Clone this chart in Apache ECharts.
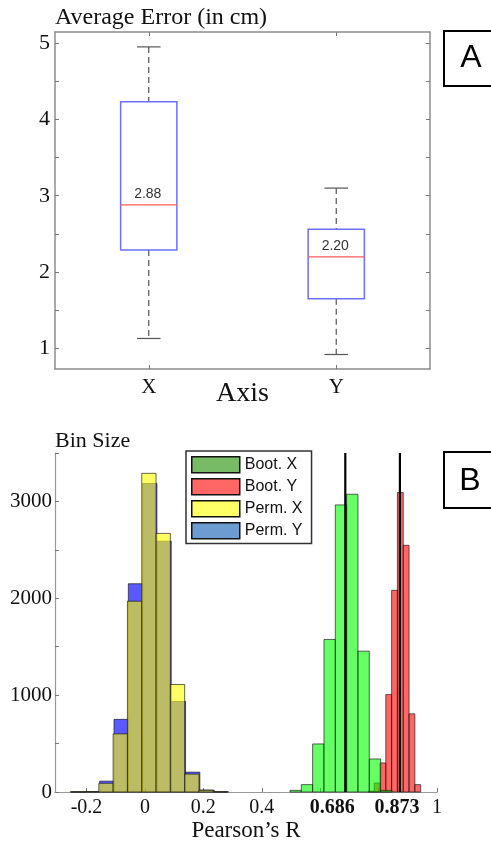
<!DOCTYPE html>
<html>
<head>
<meta charset="utf-8">
<title>Average error and Pearson's R</title>
<script src="https://cdn.jsdelivr.net/npm/echarts@6/dist/echarts.min.js"></script>
<style>
  html, body { margin: 0; padding: 0; background: #fff; }
  #chart { width: 491px; height: 844px; }
</style>
</head>
<body>
<div id="chart"></div>
<script>
"use strict";

// panel A: box plot of the average error per axis
var boxCats = ["X", "Y"];
var boxMin = [1.13, 0.92];
var boxQ1 = [2.29, 1.65];
var boxMedian = [2.88, 2.20];
var boxQ3 = [4.23, 2.56];
var boxMax = [4.95, 3.10];
var errLabels = [1, 2, 3, 4, 5];
var errTicks = [1, 1.5, 2, 2.5, 3, 3.5, 4, 4.5, 5];

// panel B: histograms of Pearson's R (bin start, bin width, counts)
var permXStart = -0.256, permXWidth = 0.049;
var permXCounts = [3, 4, 90, 600, 1970, 3290, 2670, 1110, 185, 18, 3];
var permYStart = -0.253, permYWidth = 0.049;
var permYCounts = [0, 3, 112, 750, 2150, 3185, 2590, 935, 205, 20, 2];
var bootXStart = 0.4966, bootXWidth = 0.0388;
var bootXCounts = [17, 76, 496, 1575, 2964, 3074, 1454, 341, 17];
var bootYStart = 0.765, bootYWidth = 0.0199;
var bootYCounts = [8, 93, 300, 1006, 2082, 3092, 2547, 807, 76];
var meanR = [0.686, 0.873];
var rLabels = [-0.2, 0, 0.2, 0.4, 0.686, 0.873, 1];
var rTicks = [-0.2, 0, 0.2, 0.4, 0.6, 0.8, 1];

var SERIF = "Liberation Serif";
var SANS = "Liberation Sans";

function bins(start, width, counts) {
    return counts.map(function (c, i) {
        return [start + i * width, start + (i + 1) * width, c];
    });
}

function histRender(fill) {
    return function (params, api) {
        var a = api.coord([api.value(0), 0]);
        var b = api.coord([api.value(1), api.value(2)]);
        return {
            type: "rect",
            shape: { x: a[0], y: b[1], width: b[0] - a[0], height: a[1] - b[1] },
            style: { fill: fill, stroke: "rgba(25,25,25,0.85)", lineWidth: 0.8 }
        };
    };
}

function histSeries(name, start, width, counts, fill) {
    return {
        name: name,
        type: "custom",
        xAxisIndex: 2,
        yAxisIndex: 2,
        encode: { x: [0, 1], y: 2 },
        renderItem: histRender(fill),
        data: bins(start, width, counts)
    };
}

var boxData = boxCats.map(function (c, i) {
    return [i, boxMin[i], boxQ1[i], boxMedian[i], boxQ3[i], boxMax[i]];
});

function boxRender(params, api) {
    var i = api.value(0);
    var band = api.size([1, 0])[0];
    var cx = api.coord([i, 0])[0];
    var yMin = api.coord([i, api.value(1)])[1];
    var yQ1 = api.coord([i, api.value(2)])[1];
    var yMed = api.coord([i, api.value(3)])[1];
    var yQ3 = api.coord([i, api.value(4)])[1];
    var yMax = api.coord([i, api.value(5)])[1];
    var half = band * 0.15;
    var cap = band * 0.063;
    var whisker = { stroke: "#555", lineWidth: 1.2, lineDash: [6, 4] };
    var capStyle = { stroke: "#555", lineWidth: 1.2 };
    return {
        type: "group",
        children: [
            { type: "line", shape: { x1: cx, y1: yMax, x2: cx, y2: yQ3 }, style: whisker },
            { type: "line", shape: { x1: cx, y1: yQ1, x2: cx, y2: yMin }, style: whisker },
            { type: "line", shape: { x1: cx - cap, y1: yMax, x2: cx + cap, y2: yMax }, style: capStyle },
            { type: "line", shape: { x1: cx - cap, y1: yMin, x2: cx + cap, y2: yMin }, style: capStyle },
            {
                type: "rect",
                shape: { x: cx - half, y: yQ3, width: half * 2, height: yQ1 - yQ3 },
                style: { fill: "none", stroke: "#6e6eff", lineWidth: 1.5 }
            },
            {
                type: "line",
                shape: { x1: cx - half, y1: yMed, x2: cx + half, y2: yMed },
                style: { stroke: "#ff5a5a", lineWidth: 1.3 }
            },
            {
                type: "text",
                style: {
                    text: api.value(3).toFixed(2),
                    x: cx - 1, y: yMed - 4,
                    align: "center", verticalAlign: "bottom",
                    font: "14px " + SANS, fill: "#333"
                }
            }
        ]
    };
}

var frame = { show: true, lineStyle: { color: "#8c8c8c", width: 1.5 } };
var tickIn = { show: true, inside: true, length: 4, lineStyle: { color: "#777", width: 1 } };

var chart = echarts.init(document.getElementById("chart"));

var option = {
    animation: false,
    backgroundColor: "#fff",
    grid: [
        { left: 55, top: 32, width: 375, height: 337 },
        { left: 55, top: 453, width: 382, height: 339 }
    ],
    legend: {
        orient: "vertical",
        left: 186,
        top: 451,
        padding: [5, 9, 4, 5],
        itemGap: 4.5,
        itemWidth: 48,
        itemHeight: 16,
        icon: "rect",
        selectedMode: false,
        borderColor: "#333",
        borderWidth: 1.5,
        backgroundColor: "#fff",
        textStyle: { fontFamily: SANS, fontSize: 16, color: "#111" },
        data: [
            { name: "Boot. X", itemStyle: { color: "#77bb66", borderColor: "#111", borderWidth: 1.5 } },
            { name: "Boot. Y", itemStyle: { color: "#ff6666", borderColor: "#111", borderWidth: 1.5 } },
            { name: "Perm. X", itemStyle: { color: "#ffff66", borderColor: "#111", borderWidth: 1.5 } },
            { name: "Perm. Y", itemStyle: { color: "#6d9dd0", borderColor: "#111", borderWidth: 1.5 } }
        ]
    },
    xAxis: [
        {
            type: "category",
            gridIndex: 0,
            data: boxCats,
            axisLine: frame,
            axisTick: Object.assign({ alignWithLabel: true }, tickIn),
            axisLabel: { fontFamily: SERIF, fontSize: 21, color: "#111", margin: 8 },
            name: "Axis",
            nameLocation: "middle",
            nameGap: 11,
            nameMoveOverlap: false,
            nameTextStyle: { fontFamily: SERIF, fontSize: 28, color: "#111", verticalAlign: "top" }
        },
        {
            type: "category",
            gridIndex: 0,
            position: "top",
            data: boxCats,
            axisLine: frame,
            axisTick: Object.assign({ alignWithLabel: true }, tickIn),
            axisLabel: { show: false }
        },
        {
            type: "value",
            gridIndex: 1,
            min: -0.308,
            max: 1,
            axisLine: { show: true, onZero: false, lineStyle: { color: "#999", width: 1.2 } },
            axisTick: Object.assign({ customValues: rTicks }, tickIn),
            splitLine: { show: false },
            axisLabel: {
                customValues: rLabels,
                fontFamily: SERIF,
                fontSize: 20,
                color: "#111",
                margin: 6,
                formatter: function (v) {
                    if (Math.abs(v - 0.686) < 1e-6) return "{b1|0.686}";
                    if (Math.abs(v - 0.873) < 1e-6) return "{b2|0.873}";
                    return String(v);
                },
                rich: {
                    b1: { fontFamily: SERIF, fontSize: 20, fontWeight: "bold", color: "#111", padding: [0, 26, 0, 0] },
                    b2: { fontFamily: SERIF, fontSize: 20, fontWeight: "bold", color: "#111", padding: [0, 6, 0, 0] }
                }
            },
            name: "Pearson\u2019s R",
            nameLocation: "middle",
            nameGap: 27,
            nameTextStyle: { fontFamily: SERIF, fontSize: 23, color: "#111" }
        }
    ],
    yAxis: [
        {
            type: "value",
            gridIndex: 0,
            min: 0.73,
            max: 5.145,
            axisLine: frame,
            axisTick: Object.assign({ customValues: errTicks }, tickIn),
            splitLine: { show: false },
            axisLabel: { customValues: errLabels, fontFamily: SERIF, fontSize: 22, color: "#111", margin: 5 },
            name: "Average Error (in cm)",
            nameLocation: "end",
            nameGap: 2,
            nameTextStyle: { fontFamily: SERIF, fontSize: 24, color: "#111", align: "left", verticalAlign: "bottom" }
        },
        {
            type: "value",
            gridIndex: 0,
            position: "right",
            min: 0.73,
            max: 5.145,
            axisLine: frame,
            axisTick: Object.assign({ customValues: errTicks }, tickIn),
            splitLine: { show: false },
            axisLabel: { show: false }
        },
        {
            type: "value",
            gridIndex: 1,
            min: 0,
            max: 3500,
            interval: 500,
            axisLine: { show: true, onZero: false, lineStyle: { color: "#999", width: 1.2 } },
            axisTick: tickIn,
            splitLine: { show: false },
            axisLabel: {
                fontFamily: SERIF, fontSize: 21, color: "#111", margin: 3,
                formatter: function (v) { return v % 1000 === 0 ? String(v) : ""; }
            },
            name: "Bin Size",
            nameLocation: "end",
            nameGap: 1,
            nameTextStyle: { fontFamily: SERIF, fontSize: 22, color: "#111", align: "left", verticalAlign: "bottom" }
        }
    ],
    graphic: [
        { type: "rect", shape: { x: 444, y: 31, width: 70, height: 55 }, style: { fill: "#fff", stroke: "#000", lineWidth: 2 } },
        { type: "text", style: { text: "A", x: 471, y: 58, align: "center", verticalAlign: "middle", font: "32px " + SANS, fill: "#000" } },
        { type: "rect", shape: { x: 444, y: 452, width: 70, height: 56 }, style: { fill: "#fff", stroke: "#000", lineWidth: 2 } },
        { type: "text", style: { text: "B", x: 470, y: 481, align: "center", verticalAlign: "middle", font: "32px " + SANS, fill: "#000" } }
    ],
    series: [
        {
            name: "Average Error",
            type: "custom",
            xAxisIndex: 0,
            yAxisIndex: 0,
            encode: { x: 0, y: [1, 2, 3, 4, 5] },
            renderItem: boxRender,
            data: boxData
        },
        histSeries("Perm. Y", permYStart, permYWidth, permYCounts, "rgba(0,0,255,0.65)"),
        histSeries("Perm. X", permXStart, permXWidth, permXCounts, "rgba(255,255,0,0.6)"),
        histSeries("Boot. Y", bootYStart, bootYWidth, bootYCounts, "rgba(255,0,0,0.6)"),
        histSeries("Boot. X", bootXStart, bootXWidth, bootXCounts, "rgba(0,255,0,0.6)"),
        {
            name: "Mean R",
            type: "custom",
            xAxisIndex: 2,
            yAxisIndex: 2,
            encode: { x: 0 },
            renderItem: function (params, api) {
                var a = api.coord([api.value(0), 0]);
                var b = api.coord([api.value(0), 3500]);
                return {
                    type: "line",
                    shape: { x1: a[0], y1: a[1], x2: b[0], y2: b[1] },
                    style: { stroke: "#000", lineWidth: 2.2 }
                };
            },
            data: meanR.map(function (v) { return [v]; })
        }
    ]
};

chart.setOption(option);
</script>
</body>
</html>
